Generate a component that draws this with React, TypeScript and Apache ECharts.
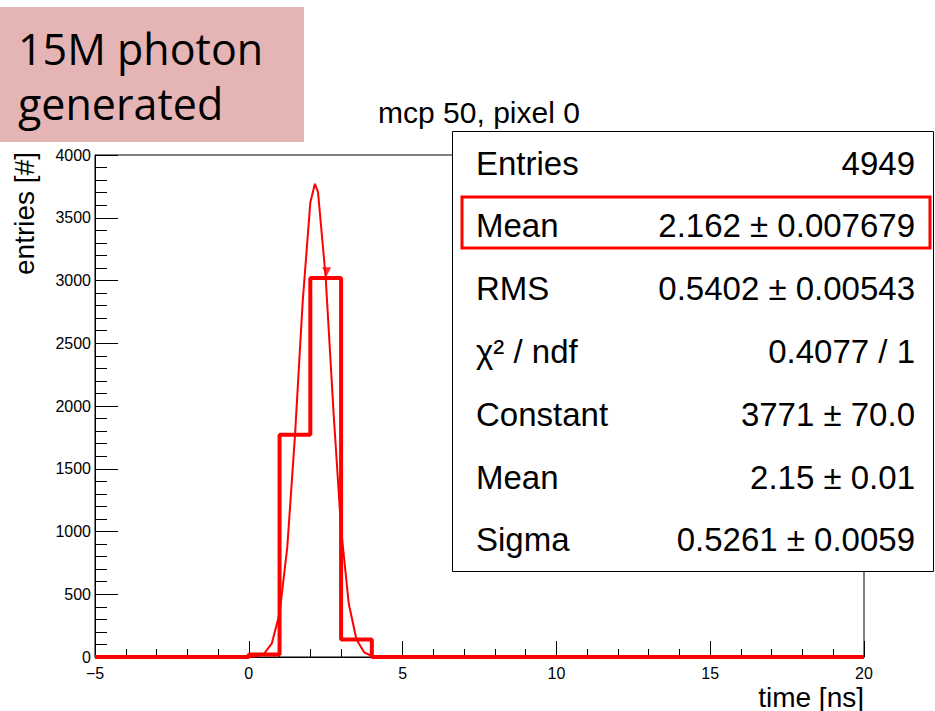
import React, { useEffect, useRef } from "react";
import * as echarts from "echarts";

// Histogram: 1 ns bins from -5 to 20 ns
const binStart = -5;
const binWidth = 1;
const binCounts = [
  0, 0, 0, 0, 0, 20, 1770, 3020, 139, 0, 0, 0, 0, 0, 0, 0, 0, 0, 0, 0, 0, 0, 0, 0, 0,
];

// Gaussian fit curve as drawn (time ns, entries)
const fitX = [0, 0.25, 0.5, 0.75, 1.0, 1.25, 1.5, 1.75, 2.0, 2.15, 2.25, 2.5, 2.75, 3.0, 3.25, 3.5, 3.75, 4.0];
const fitY = [1, 6, 28, 109, 346, 873, 1758, 2824, 3621, 3771, 3704, 3022, 1968, 1022, 424, 140, 37, 8];

// Marker on the histogram top
const markerPoint = [2.53, 3070];

// Stats box
const statLabels = ["Entries", "Mean", "RMS", "χ² / ndf", "Constant", "Mean", "Sigma"];
const statValues = [
  "4949",
  "2.162 ± 0.007679",
  "0.5402 ± 0.00543",
  "0.4077 / 1",
  "3771 ± 70.0",
  "2.15 ± 0.01",
  "0.5261 ± 0.0059",
];

const xTicks = { min: -5, max: 20, interval: 5 };
const yTicks = { min: 0, max: 4000, interval: 500 };

const chartTitle = "mcp 50, pixel 0";
const xTitle = "time [ns]";
const yTitle = "entries [#]";
const noteLines = ["15M photon", "generated"];

const ROOT_FONT = "'Liberation Sans', Arial, Helvetica, sans-serif";

export default function App() {
  const ref = useRef<HTMLDivElement>(null);

  useEffect(() => {
    if (!ref.current) return;
    const chart = echarts.init(ref.current, undefined, { renderer: "svg" });

    const histData: number[][] = [];
    binCounts.forEach((c, i) => {
      const x0 = binStart + i * binWidth;
      histData.push([x0, c]);
      histData.push([x0 + binWidth, c]);
    });
    const fitData = fitX.map((x, i) => [x, fitY[i]]);

    const rowY0 = 163;
    const rowStep = 62.8;
    const statTexts: any[] = [];
    statLabels.forEach((l, i) => {
      statTexts.push({
        type: "text",
        x: 476,
        y: rowY0 + i * rowStep,
        z: 101,
        style: {
          text: l,
          font: `33px ${ROOT_FONT}`,
          fill: "#000",
          align: "left",
          verticalAlign: "middle",
        },
      });
      statTexts.push({
        type: "text",
        x: 915,
        y: rowY0 + i * rowStep,
        z: 101,
        style: {
          text: statValues[i],
          font: `33px ${ROOT_FONT}`,
          fill: "#000",
          align: "right",
          verticalAlign: "middle",
        },
      });
    });

    const minus = (v: number) => String(v).replace("-", "−");

    chart.setOption({
      animation: false,
      backgroundColor: "#fff",
      grid: {
        left: 95,
        right: 71,
        top: 155,
        bottom: 54,
        show: true,
        borderColor: "#000",
        borderWidth: 1,
        backgroundColor: "transparent",
      },
      xAxis: {
        type: "value",
        min: xTicks.min,
        max: xTicks.max,
        interval: xTicks.interval,
        axisLine: { show: true, onZero: false, lineStyle: { color: "#000", width: 1 } },
        axisTick: { show: true, inside: true, length: 16, lineStyle: { color: "#000" } },
        minorTick: { show: true, splitNumber: 5, length: 8, lineStyle: { color: "#000" } },
        splitLine: { show: false },
        axisLabel: {
          color: "#000",
          fontSize: 16,
          fontFamily: ROOT_FONT,
          margin: 8,
          formatter: (v: number) => minus(v),
        },
      },
      yAxis: {
        type: "value",
        min: yTicks.min,
        max: yTicks.max,
        interval: yTicks.interval,
        axisLine: { show: true, onZero: false, lineStyle: { color: "#000", width: 1 } },
        axisTick: { show: true, inside: true, length: 23, lineStyle: { color: "#000" } },
        minorTick: { show: true, splitNumber: 5, length: 12, lineStyle: { color: "#000" } },
        splitLine: { show: false },
        axisLabel: {
          color: "#000",
          fontSize: 16,
          fontFamily: ROOT_FONT,
          margin: 4,
          formatter: (v: number) => String(v),
        },
      },
      series: [
        {
          type: "line",
          name: "hist",
          data: histData,
          showSymbol: false,
          symbol: "none",
          lineStyle: { color: "#ff0000", width: 4 },
          z: 3,
        },
        {
          type: "line",
          name: "fit",
          data: fitData,
          showSymbol: false,
          symbol: "none",
          lineStyle: { color: "#ff0000", width: 2 },
          z: 4,
        },
        {
          type: "scatter",
          name: "marker",
          data: [markerPoint],
          symbol: "triangle",
          symbolRotate: 180,
          symbolSize: 9,
          itemStyle: { color: "#ff0000" },
          z: 5,
        },
      ],
      graphic: [
        {
          type: "rect",
          shape: { x: 0, y: 7, width: 304, height: 135 },
          style: { fill: "#e5b5b5" },
          z: 100,
        },
        {
          type: "text",
          x: 18,
          y: 48,
          z: 101,
          style: {
            text: noteLines[0],
            font: "43px 'Open Sans', sans-serif",
            fill: "#000",
            align: "left",
            verticalAlign: "middle",
          },
        },
        {
          type: "text",
          x: 18,
          y: 103,
          z: 101,
          style: {
            text: noteLines[1],
            font: "43px 'Open Sans', sans-serif",
            fill: "#000",
            align: "left",
            verticalAlign: "middle",
          },
        },
        {
          type: "text",
          x: 479,
          y: 112,
          z: 101,
          style: {
            text: chartTitle,
            font: `30px ${ROOT_FONT}`,
            fill: "#000",
            align: "center",
            verticalAlign: "middle",
          },
        },
        {
          type: "text",
          x: 864,
          y: 697,
          z: 101,
          style: {
            text: xTitle,
            font: `28px ${ROOT_FONT}`,
            fill: "#000",
            align: "right",
            verticalAlign: "middle",
          },
        },
        {
          type: "text",
          x: 24,
          y: 152,
          rotation: Math.PI / 2,
          z: 101,
          style: {
            text: yTitle,
            font: `28px ${ROOT_FONT}`,
            fill: "#000",
            align: "right",
            verticalAlign: "middle",
          },
        },
        {
          type: "rect",
          shape: { x: 452.5, y: 131.5, width: 481, height: 440 },
          style: { fill: "#fff", stroke: "#000", lineWidth: 1 },
          z: 100,
        },
        {
          type: "rect",
          shape: { x: 462, y: 197, width: 468, height: 51 },
          style: { fill: "none", stroke: "#ff0000", lineWidth: 3 },
          z: 102,
        },
        ...statTexts,
      ],
    });

    return () => chart.dispose();
  }, []);

  return <div ref={ref} style={{ width: 935, height: 711, position: "absolute", left: 0, top: 0 }} />;
}
